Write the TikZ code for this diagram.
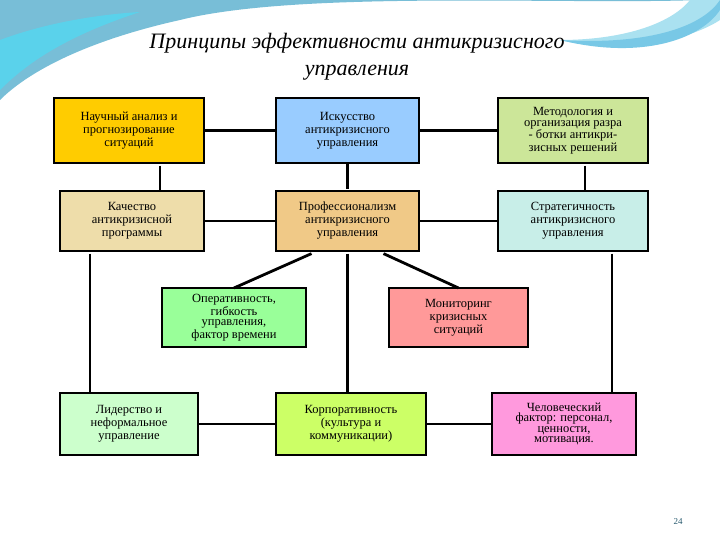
\documentclass[tikz,border=0pt]{standalone}
\usepackage{fontspec}
\setmainfont{Liberation Serif}
\begin{document}
\begin{tikzpicture}[x=1pt,y=-1pt,
  box/.style={draw=black,line width=2.6pt,align=center,font=\fontsize{12.5}{13}\selectfont,inner sep=1pt},
  link/.style={line width=2.8pt}]
\useasboundingbox (0,0) rectangle (720,540);
\fill[white] (0,0) rectangle (720,540);
% background swoosh
\fill[fill={rgb,255:red,120;green,190;blue,215}] (0,0) -- (700,0) .. controls (560,5) and (300,-10) .. (180,20) .. controls (90,40) and (30,70) .. (0,100) -- cycle;
\fill[fill={rgb,255:red,90;green,210;blue,235}] (0,40) .. controls (40,25) and (90,15) .. (140,12) .. controls (70,35) and (30,60) .. (0,90) -- cycle;
\fill[fill={rgb,255:red,170;green,225;blue,240}] (690,0) -- (720,0) -- (720,20) .. controls (690,40) and (620,55) .. (560,40) .. controls (620,40) and (670,25) .. (690,0);
\fill[fill={rgb,255:red,120;green,200;blue,230}] (720,10) .. controls (700,40) and (640,60) .. (560,40) .. controls (640,45) and (700,30) .. (720,0) -- cycle;
\node[font=\fontsize{22}{27}\selectfont\itshape,align=center] (title) at (357,57) {Принципы эффективности антикризисного\\управления};
\node[box,fill={rgb,255:red,255;green,204;blue,0},minimum width=150,minimum height=65] (a1) at (129,130.5) {Научный анализ и\\прогнозирование\\ситуаций};
\node[box,fill={rgb,255:red,153;green,204;blue,255},minimum width=143,minimum height=65] (a2) at (347.5,130.5) {Искусство\\антикризисного\\управления};
\node[box,fill={rgb,255:red,204;green,230;blue,153},minimum width=150,minimum height=65,font=\fontsize{12.5}{11}\selectfont] (a3) at (573,130.5) {Методология и\\организация разра\\- ботки антикри-\\зисных решений};
\node[box,fill={rgb,255:red,238;green,221;blue,170},minimum width=144,minimum height=60] (b1) at (132,221) {Качество\\антикризисной\\программы};
\node[box,fill={rgb,255:red,240;green,201;blue,135},minimum width=143,minimum height=60] (b2) at (347.5,221) {Профессионализм\\антикризисного\\управления};
\node[box,fill={rgb,255:red,200;green,238;blue,232},minimum width=150,minimum height=60] (b3) at (573,221) {Стратегичность\\антикризисного\\управления};
\node[box,fill={rgb,255:red,153;green,255;blue,153},minimum width=144,minimum height=59,font=\fontsize{12.5}{10.5}\selectfont] (c1) at (234,317.5) {Оперативность,\\гибкость\\управления,\\фактор времени};
\node[box,fill={rgb,255:red,255;green,153;blue,153},minimum width=139,minimum height=59] (c2) at (458.5,317.5) {Мониторинг\\кризисных\\ситуаций};
\node[box,fill={rgb,255:red,204;green,255;blue,204},minimum width=138,minimum height=62] (d1) at (129,424) {Лидерство и\\неформальное\\управление};
\node[box,fill={rgb,255:red,204;green,255;blue,102},minimum width=150,minimum height=62] (d2) at (351,424) {Корпоративность\\(культура и\\коммуникации)};
\node[box,fill={rgb,255:red,255;green,153;blue,221},minimum width=144,minimum height=62,font=\fontsize{12.5}{10.5}\selectfont] (d3) at (564,424) {Человеческий\\фактор: персонал,\\ценности,\\мотивация.};
\draw[link] (a1) -- (a2); \draw[link] (a2) -- (a3);
\draw[link] (b1) -- (b2); \draw[link] (b2) -- (b3);
\draw[link] (d1) -- (d2); \draw[link] (d2) -- (d3);
\draw[link] (a1.south) ++(31,1.3) -- ++(0,26.4);
\draw[link] (a2) ++(0,33.8) -- ++(0,24.4);
\draw[link] (a3.south) ++(12,1.3) -- ++(0,26.4);
\draw[link] (b1.south) ++(-42,1.3) -- ++(0,139.4);
\draw[link] (b2.south) ++(0,1.3) -- ++(0,139.4);
\draw[link] (b3.south) ++(39,1.3) -- ++(0,139.4);
\draw[link] (b2.south) ++(-36,1.3) -- ([yshift=-1.3]c1.north);
\draw[link] (b2.south) ++(36,1.3) -- ([yshift=-1.3]c2.north);
\node[font=\fontsize{9}{9}\selectfont,text={rgb,255:red,40;green,90;blue,110}] (pg) at (678,522) {24};
\end{tikzpicture}
\end{document}
